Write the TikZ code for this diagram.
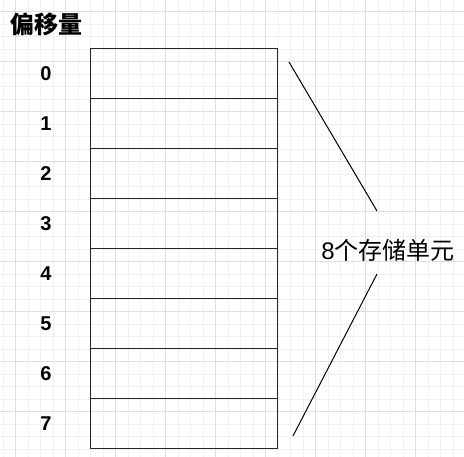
\documentclass[tikz,border=0pt]{standalone}
\usepackage{fontspec}
\setmainfont{Liberation Sans}
\newfontfamily\cjk{Noto Sans CJK SC}
\usetikzlibrary{positioning}
\tikzset{
    cellbox/.style={draw=black!85, line width=1pt, minimum width=187pt, minimum height=50pt, inner sep=0pt, outer sep=0pt},
    offsetnum/.style={font=\fontsize{20}{24}\selectfont\bfseries},
    minorgrid/.style={draw=black!6, line width=0.8pt},
    majorgrid/.style={draw=black!13, line width=0.8pt}
}
\begin{document}
\begin{tikzpicture}[x=1pt, y=-1pt]

		\useasboundingbox (0,0) rectangle (464,457);

		% background grid
		\foreach \gx in {3.2,15.7,...,465} \draw[minorgrid] (\gx,0) -- (\gx,457);
		\foreach \gy in {11.7,24.2,...,457} \draw[minorgrid] (0,\gy) -- (464,\gy);
		\foreach \gx in {15.7,65.7,...,464} \draw[majorgrid] (\gx,0) -- (\gx,457);
		\foreach \gy in {11.7,61.7,...,457} \draw[majorgrid] (0,\gy) -- (464,\gy);

		\node[font=\cjk\fontsize{24}{28}\selectfont\bfseries] (title) at (46.5,24) {偏移量};

		\node[cellbox] (c0) at (183.5,74) {};
		\node[cellbox, below=0pt of c0] (c1) {};
		\node[cellbox, below=0pt of c1] (c2) {};
		\node[cellbox, below=0pt of c2] (c3) {};
		\node[cellbox, below=0pt of c3] (c4) {};
		\node[cellbox, below=0pt of c4] (c5) {};
		\node[cellbox, below=0pt of c5] (c6) {};
		\node[cellbox, below=0pt of c6] (c7) {};

		\node[offsetnum] (n0) at (46,74) {0};
		\node[offsetnum] (n1) at (46,124) {1};
		\node[offsetnum] (n2) at (46,174) {2};
		\node[offsetnum] (n3) at (46,224) {3};
		\node[offsetnum] (n4) at (46,274) {4};
		\node[offsetnum] (n5) at (46,324) {5};
		\node[offsetnum] (n6) at (46,374) {6};
		\node[offsetnum] (n7) at (46,424) {7};

		\node[font=\fontsize{24}{28}\selectfont] (units) at (388,250) {8{\cjk 个存储单元}};

		\coordinate (upfrom) at ([shift={(12,13)}]c0.north east);
		\coordinate (upto) at ([shift={(-11,-39)}]units.center);
		\coordinate (lowfrom) at ([shift={(-11,24)}]units.center);
		\coordinate (lowto) at ([shift={(16,-13)}]c7.south east);

		\draw[line width=1pt] (upfrom) -- (upto);
		\draw[line width=1pt] (lowfrom) -- (lowto);

\end{tikzpicture}
\end{document}
